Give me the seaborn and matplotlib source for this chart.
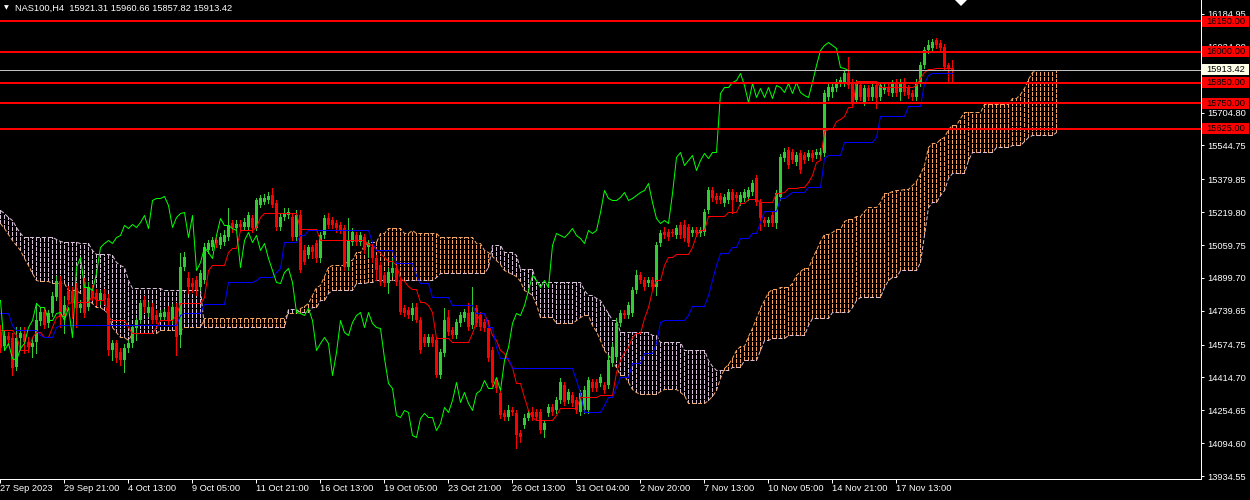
import numpy as np
import matplotlib
matplotlib.use("Agg")
import matplotlib.pyplot as plt
import seaborn as sns
from matplotlib.patches import Rectangle, Polygon
from matplotlib.transforms import blended_transform_factory

# ---------------- data (NAS100, H4) ----------------
open_ = [
 14636, 14568, 14616, 14607, 14465, 14607, 14626, 14587, 14563, 14587,
 14690, 14733, 14680, 14728, 14806, 14884, 14709, 14836, 14836, 14850,
 14753, 14879, 14758, 14841, 14826, 14792, 14821, 14802, 14548, 14582,
 14539, 14500, 14558, 14582, 14655, 14694, 14792, 14728, 14758, 14719,
 14709, 14709, 14733, 14694, 14758, 14621, 14953, 14899, 14875, 14889,
 14855, 14889, 15035, 15050, 15084, 15060, 15074, 15099, 15167, 15142,
 15162, 15147, 15147, 15191, 15142, 15255, 15269, 15279, 15303, 15264,
 15147, 15196, 15206, 15196, 15099, 15206, 15035, 15011, 15050, 15069,
 14996, 15108, 15191, 15181, 15167, 15157, 15142, 14953, 15074, 15108,
 15074, 15099, 15050, 15050, 14996, 14962, 14914, 14875, 14923, 14948,
 14889, 14753, 14743, 14719, 14758, 14694, 14612, 14582, 14612, 14597,
 14426, 14534, 14709, 14646, 14621, 14680, 14704, 14728, 14670, 14753,
 14719, 14685, 14655, 14548, 14392, 14339, 14241, 14222, 14256, 14241,
 14144, 14183, 14217, 14246, 14246, 14246, 14159, 14241, 14271, 14256,
 14305, 14378, 14305, 14329, 14305, 14246, 14256, 14256, 14392, 14392,
 14387, 14378, 14378, 14485, 14514, 14680, 14728, 14719, 14728, 14841,
 14914, 14889, 14875, 14889, 14855, 15069, 15123, 15123, 15123, 15108,
 15157, 15157, 15147, 15118, 15133, 15118, 15123, 15230, 15328, 15298,
 15298, 15264, 15279, 15318, 15303, 15269, 15289, 15293, 15318, 15386,
 15269, 15181, 15167, 15206, 15167, 15293, 15484, 15522, 15513, 15464,
 15508, 15498, 15488, 15508, 15498, 15498, 15508, 15781, 15805, 15824,
 15849, 15849, 15898, 15854, 15766, 15839, 15756, 15824, 15781, 15839,
 15781, 15815, 15829, 15800, 15854, 15805, 15854, 15824, 15800, 15781,
 15849, 15936, 16010, 16019, 16058, 16044, 16024, 15936, 15921.31]
high = [
 14670, 14646, 14636, 14631, 14660, 14660, 14660, 14612, 14607, 14777,
 14758, 14753, 14743, 14831, 14909, 14909, 14811, 14860, 14855, 14875,
 14792, 14899, 14879, 14865, 14845, 14841, 14845, 14821, 14597, 14597,
 14558, 14578, 14597, 14670, 14704, 14792, 14811, 14782, 14777, 14743,
 14743, 14748, 14763, 14772, 14777, 15021, 15026, 14928, 14899, 14909,
 14938, 15069, 15084, 15099, 15099, 15118, 15133, 15240, 15181, 15181,
 15181, 15191, 15220, 15206, 15289, 15303, 15308, 15318, 15337, 15279,
 15216, 15240, 15240, 15216, 15230, 15230, 15060, 15060, 15060, 15084,
 15123, 15206, 15216, 15196, 15181, 15172, 15157, 15191, 15142, 15123,
 15123, 15113, 15084, 15065, 15011, 14977, 14928, 14948, 14996, 14962,
 14904, 14767, 14758, 14777, 14777, 14709, 14626, 14626, 14626, 14612,
 14553, 14753, 14743, 14660, 14699, 14733, 14748, 14777, 14855, 14767,
 14733, 14699, 14694, 14563, 14407, 14353, 14256, 14280, 14271, 14256,
 14159, 14236, 14256, 14271, 14261, 14261, 14207, 14285, 14285, 14319,
 14412, 14392, 14358, 14344, 14319, 14353, 14373, 14417, 14407, 14407,
 14431, 14392, 14524, 14582, 14704, 14743, 14743, 14782, 14855, 14938,
 14928, 14904, 14904, 14904, 15074, 15133, 15147, 15138, 15138, 15157,
 15172, 15181, 15162, 15147, 15147, 15147, 15235, 15342, 15342, 15313,
 15313, 15308, 15332, 15332, 15318, 15318, 15332, 15342, 15376, 15401,
 15284, 15196, 15196, 15220, 15328, 15503, 15532, 15537, 15527, 15513,
 15522, 15513, 15522, 15522, 15527, 15532, 15815, 15844, 15844, 15868,
 15878, 15912, 15976, 15868, 15863, 15854, 15839, 15839, 15844, 15854,
 15854, 15844, 15844, 15863, 15868, 15868, 15873, 15839, 15815, 15868,
 15951, 16024, 16058, 16063, 16068, 16058, 16039, 15946, 15960.66]
low = [
 14539, 14548, 14573, 14426, 14451, 14548, 14534, 14539, 14514, 14534,
 14670, 14655, 14660, 14714, 14792, 14660, 14631, 14777, 14704, 14660,
 14733, 14709, 14743, 14792, 14767, 14772, 14772, 14524, 14500, 14490,
 14475, 14441, 14539, 14563, 14597, 14680, 14733, 14714, 14680, 14680,
 14694, 14694, 14675, 14680, 14524, 14563, 14938, 14826, 14831, 14816,
 14841, 14875, 15021, 15035, 15050, 15045, 15060, 15084, 15123, 15133,
 15133, 15133, 15133, 15123, 15133, 15245, 15259, 15264, 15245, 15133,
 15133, 15181, 15191, 15084, 15084, 14928, 14967, 14996, 14996, 14977,
 14977, 15094, 15142, 15142, 15123, 15118, 14938, 14938, 15060, 15060,
 15060, 15021, 15001, 14977, 14889, 14865, 14860, 14826, 14909, 14865,
 14724, 14714, 14704, 14694, 14685, 14534, 14568, 14568, 14568, 14417,
 14412, 14519, 14621, 14607, 14607, 14665, 14690, 14646, 14655, 14665,
 14646, 14641, 14495, 14373, 14344, 14217, 14207, 14207, 14232, 14071,
 14100, 14168, 14207, 14207, 14207, 14144, 14124, 14227, 14232, 14241,
 14290, 14280, 14290, 14275, 14241, 14232, 14241, 14241, 14349, 14349,
 14373, 14339, 14363, 14470, 14500, 14665, 14704, 14704, 14714, 14826,
 14875, 14841, 14860, 14841, 14816, 15055, 15094, 15084, 15104, 15094,
 15094, 15079, 15055, 15104, 15104, 15104, 15108, 15216, 15274, 15264,
 15264, 15250, 15264, 15216, 15274, 15255, 15274, 15279, 15303, 15255,
 15133, 15152, 15152, 15152, 15142, 15279, 15469, 15435, 15459, 15449,
 15410, 15459, 15474, 15469, 15484, 15484, 15493, 15766, 15781, 15810,
 15834, 15834, 15824, 15742, 15751, 15766, 15742, 15766, 15766, 15727,
 15766, 15800, 15790, 15785, 15785, 15766, 15790, 15776, 15766, 15766,
 15834, 15922, 15995, 16005, 16019, 16005, 15912, 15859, 15857.82]
close = [
 14558, 14616, 14597, 14461, 14607, 14631, 14587, 14563, 14582, 14694,
 14733, 14670, 14728, 14811, 14884, 14709, 14767, 14792, 14782, 14753,
 14772, 14728, 14855, 14802, 14792, 14826, 14792, 14548, 14582, 14509,
 14500, 14558, 14582, 14660, 14694, 14777, 14758, 14758, 14694, 14694,
 14728, 14733, 14694, 14758, 14612, 14953, 15001, 14855, 14855, 14841,
 14923, 15050, 15069, 15084, 15069, 15099, 15108, 15157, 15142, 15162,
 15147, 15172, 15206, 15142, 15279, 15289, 15289, 15298, 15255, 15147,
 15196, 15216, 15220, 15099, 15206, 14938, 14977, 15050, 15026, 14996,
 15108, 15191, 15157, 15157, 15142, 15133, 14953, 15084, 15123, 15074,
 15108, 15035, 15069, 14996, 14938, 14879, 14875, 14928, 14948, 14879,
 14733, 14728, 14719, 14753, 14694, 14548, 14582, 14612, 14582, 14426,
 14539, 14694, 14636, 14621, 14685, 14719, 14733, 14660, 14733, 14680,
 14660, 14655, 14509, 14387, 14363, 14232, 14222, 14256, 14246, 14134,
 14124, 14217, 14241, 14222, 14222, 14159, 14193, 14271, 14246, 14305,
 14392, 14295, 14344, 14290, 14256, 14339, 14353, 14402, 14363, 14363,
 14417, 14353, 14500, 14563, 14680, 14728, 14719, 14767, 14841, 14914,
 14889, 14855, 14889, 14855, 15060, 15118, 15108, 15099, 15118, 15142,
 15108, 15094, 15069, 15133, 15118, 15133, 15220, 15328, 15289, 15279,
 15279, 15293, 15318, 15279, 15289, 15303, 15318, 15328, 15362, 15269,
 15191, 15167, 15181, 15167, 15313, 15488, 15513, 15449, 15474, 15498,
 15425, 15474, 15508, 15484, 15513, 15513, 15800, 15829, 15829, 15854,
 15863, 15898, 15839, 15756, 15849, 15781, 15824, 15781, 15829, 15776,
 15839, 15829, 15805, 15849, 15800, 15854, 15805, 15790, 15781, 15854,
 15936, 16010, 16034, 16049, 16034, 16019, 15927, 15922, 15913.42]
tenkan = [
 14646, 14646, 14646, 14646, 14621, 14548, 14548, 14548, 14612, 14636,
 14636, 14612, 14612, 14660, 14709, 14719, 14719, 14777, 14782, 14782,
 14782, 14782, 14782, 14816, 14792, 14792, 14792, 14704, 14694, 14694,
 14694, 14694, 14660, 14631, 14631, 14631, 14631, 14631, 14631, 14660,
 14694, 14694, 14694, 14694, 14719, 14777, 14777, 14777, 14777, 14777,
 14777, 14806, 14938, 14962, 14962, 14962, 14962, 15026, 15045, 15045,
 15133, 15133, 15133, 15133, 15147, 15196, 15216, 15216, 15216, 15216,
 15216, 15216, 15216, 15216, 15216, 15138, 15138, 15138, 15138, 15138,
 15084, 15084, 15084, 15084, 15084, 15084, 15084, 15084, 15084, 15084,
 15084, 15084, 15065, 15060, 15040, 15021, 15001, 14982, 14982, 14962,
 14899, 14884, 14860, 14845, 14845, 14782, 14782, 14767, 14733, 14607,
 14607, 14607, 14607, 14587, 14587, 14587, 14587, 14587, 14631, 14690,
 14728, 14728, 14680, 14621, 14597, 14548, 14534, 14500, 14465, 14387,
 14387, 14320, 14256, 14222, 14207, 14207, 14207, 14207, 14207, 14232,
 14266, 14266, 14266, 14266, 14266, 14320, 14320, 14320, 14320, 14320,
 14329, 14329, 14329, 14329, 14441, 14500, 14539, 14563, 14612, 14631,
 14631, 14704, 14758, 14841, 14889, 14889, 14962, 15001, 15001, 15016,
 15016, 15016, 15016, 15050, 15108, 15133, 15133, 15201, 15201, 15201,
 15201, 15201, 15220, 15220, 15220, 15264, 15264, 15284, 15284, 15284,
 15269, 15269, 15269, 15269, 15313, 15313, 15318, 15337, 15337, 15337,
 15342, 15342, 15367, 15401, 15464, 15474, 15615, 15625, 15625, 15664,
 15673, 15688, 15732, 15732, 15859, 15859, 15859, 15859, 15859, 15859,
 15829, 15829, 15829, 15829, 15829, 15829, 15829, 15829, 15829, 15839,
 15873, 15902, 15917, 15917, 15922, 15922, 15922, 15922, 15922]
kijun = [
 14728, 14728, 14728, 14670, 14646, 14646, 14646, 14646, 14646, 14646,
 14621, 14612, 14612, 14612, 14660, 14670, 14670, 14670, 14670, 14670,
 14670, 14670, 14670, 14670, 14670, 14670, 14670, 14670, 14670, 14670,
 14670, 14670, 14670, 14670, 14670, 14670, 14670, 14670, 14670, 14670,
 14670, 14670, 14670, 14670, 14670, 14719, 14728, 14728, 14728, 14728,
 14728, 14772, 14772, 14772, 14772, 14772, 14772, 14879, 14879, 14879,
 14879, 14879, 14879, 14879, 14889, 14904, 14904, 14904, 14904, 14928,
 14948, 15074, 15074, 15074, 15074, 15108, 15108, 15133, 15133, 15133,
 15133, 15133, 15133, 15133, 15133, 15133, 15133, 15133, 15133, 15133,
 15133, 15133, 15133, 15074, 15035, 15035, 15035, 15035, 15035, 14972,
 14972, 14972, 14972, 14972, 14914, 14875, 14875, 14875, 14806, 14806,
 14806, 14806, 14806, 14767, 14767, 14767, 14767, 14767, 14767, 14728,
 14728, 14728, 14660, 14660, 14563, 14509, 14509, 14509, 14461, 14461,
 14461, 14461, 14461, 14461, 14461, 14461, 14461, 14461, 14461, 14461,
 14461, 14461, 14461, 14461, 14402, 14339, 14246, 14246, 14246, 14246,
 14246, 14280, 14320, 14320, 14368, 14417, 14417, 14417, 14485, 14485,
 14485, 14534, 14534, 14534, 14582, 14685, 14694, 14694, 14694, 14694,
 14694, 14694, 14719, 14763, 14763, 14763, 14763, 14816, 14889, 14962,
 15021, 15021, 15021, 15050, 15050, 15094, 15094, 15094, 15118, 15118,
 15172, 15225, 15225, 15225, 15225, 15289, 15289, 15303, 15318, 15318,
 15318, 15318, 15342, 15342, 15342, 15342, 15484, 15498, 15498, 15498,
 15498, 15561, 15561, 15561, 15561, 15561, 15561, 15561, 15561, 15586,
 15688, 15688, 15688, 15688, 15688, 15688, 15688, 15737, 15737, 15737,
 15737, 15849, 15888, 15898, 15898, 15898, 15898, 15898, 15898]
span_a = [
 15167, 15142, 15113, 15084, 15060, 15035, 14996, 14962, 14923, 14889,
 14884, 14884, 14884, 14875, 14875, 14875, 14875, 14841, 14841, 14841,
 14826, 14826, 14792, 14777, 14758, 14758, 14743, 14728, 14660, 14636,
 14612, 14612, 14597, 14631, 14631, 14631, 14631, 14631, 14631, 14631,
 14646, 14646, 14646, 14646, 14646, 14646, 14660, 14660, 14660, 14660,
 14660, 14704, 14704, 14704, 14704, 14704, 14704, 14704, 14704, 14704,
 14704, 14704, 14704, 14704, 14704, 14704, 14704, 14704, 14704, 14704,
 14704, 14704, 14728, 14728, 14728, 14753, 14763, 14777, 14816, 14855,
 14865, 14909, 14953, 14962, 14962, 14962, 14962, 14987, 14987, 15026,
 15026, 15060, 15074, 15074, 15074, 15118, 15118, 15142, 15142, 15142,
 15142, 15118, 15118, 15133, 15118, 15118, 15118, 15118, 15118, 15118,
 15099, 15099, 15099, 15099, 15099, 15099, 15099, 15099, 15099, 15069,
 15069, 15035, 15026, 15006, 14987, 14967, 14938, 14928, 14918, 14909,
 14884, 14841, 14831, 14816, 14772, 14709, 14709, 14709, 14709, 14680,
 14680, 14680, 14680, 14680, 14694, 14709, 14719, 14719, 14670, 14641,
 14597, 14548, 14524, 14500, 14465, 14426, 14426, 14392, 14358, 14344,
 14334, 14334, 14334, 14334, 14334, 14349, 14358, 14358, 14358, 14358,
 14344, 14329, 14290, 14290, 14290, 14290, 14290, 14305, 14324, 14353,
 14412, 14461, 14480, 14509, 14548, 14568, 14568, 14616, 14655, 14704,
 14753, 14792, 14831, 14845, 14845, 14855, 14855, 14855, 14875, 14914,
 14933, 14948, 14948, 14996, 15035, 15079, 15113, 15113, 15123, 15138,
 15138, 15177, 15186, 15186, 15201, 15201, 15225, 15245, 15245, 15245,
 15269, 15313, 15313, 15323, 15328, 15328, 15332, 15332, 15352, 15371,
 15406, 15449, 15537, 15557, 15557, 15576, 15586, 15625, 15644, 15644,
 15678, 15708, 15708, 15708, 15708, 15708, 15747, 15747, 15747, 15747,
 15747, 15747, 15747, 15776, 15776, 15795, 15824, 15868, 15902, 15912,
 15912, 15912, 15912, 15912, 15912]
span_b = [
 15230, 15216, 15196, 15181, 15147, 15118, 15099, 15099, 15099, 15099,
 15099, 15099, 15099, 15099, 15089, 15079, 15074, 15074, 15074, 15074,
 15069, 15069, 15069, 15035, 15016, 15016, 15016, 15016, 15011, 14977,
 14962, 14953, 14889, 14850, 14850, 14850, 14850, 14850, 14850, 14850,
 14850, 14841, 14841, 14841, 14841, 14841, 14841, 14841, 14841, 14841,
 14841, 14660, 14660, 14660, 14660, 14660, 14660, 14660, 14660, 14660,
 14660, 14660, 14660, 14660, 14660, 14660, 14660, 14660, 14660, 14660,
 14660, 14660, 14748, 14748, 14748, 14733, 14733, 14733, 14758, 14758,
 14792, 14792, 14826, 14841, 14841, 14841, 14841, 14841, 14841, 14875,
 14875, 14875, 14879, 14879, 14889, 14889, 14889, 14889, 14889, 14889,
 14889, 14889, 14889, 14889, 14889, 14889, 14889, 14889, 14889, 14904,
 14923, 14923, 14923, 14923, 14923, 14923, 14923, 14923, 14923, 14923,
 14923, 14923, 14953, 15060, 15060, 15060, 15026, 15026, 15026, 15011,
 14943, 14943, 14943, 14943, 14879, 14879, 14879, 14879, 14879, 14879,
 14879, 14879, 14879, 14879, 14879, 14879, 14841, 14816, 14816, 14802,
 14792, 14758, 14728, 14694, 14694, 14636, 14636, 14636, 14636, 14636,
 14636, 14636, 14636, 14621, 14621, 14587, 14587, 14587, 14587, 14587,
 14587, 14548, 14548, 14548, 14548, 14548, 14548, 14500, 14470, 14451,
 14451, 14451, 14451, 14465, 14465, 14465, 14500, 14500, 14500, 14500,
 14548, 14597, 14597, 14607, 14607, 14607, 14607, 14621, 14621, 14621,
 14621, 14621, 14670, 14704, 14704, 14704, 14704, 14704, 14733, 14733,
 14733, 14733, 14733, 14758, 14792, 14806, 14806, 14806, 14806, 14806,
 14806, 14855, 14889, 14904, 14904, 14938, 14938, 14938, 14938, 14938,
 14977, 15108, 15245, 15269, 15269, 15303, 15328, 15386, 15410, 15410,
 15410, 15410, 15474, 15513, 15513, 15513, 15513, 15513, 15513, 15537,
 15537, 15537, 15537, 15547, 15547, 15547, 15566, 15586, 15596, 15596,
 15596, 15596, 15596, 15596, 15610]
levels = [16150.00, 16000.00, 15850.00, 15750.00, 15625.00]
bid = 15913.42
price_ticks = [16184.95, 16024.90, 15864.85, 15704.80, 15544.75, 15379.85,
               15219.80, 15059.75, 14899.70, 14739.65, 14574.75, 14414.70,
               14254.65, 14094.60, 13934.55]
time_labels = ["27 Sep 2023", "29 Sep 21:00", "4 Oct 13:00", "9 Oct 05:00",
               "11 Oct 21:00", "16 Oct 13:00", "19 Oct 05:00", "23 Oct 21:00",
               "26 Oct 13:00", "31 Oct 04:00", "2 Nov 20:00", "7 Nov 13:00",
               "10 Nov 05:00", "14 Nov 21:00", "17 Nov 13:00"]
title = "NAS100,H4  15921.31 15960.66 15857.82 15913.42"
chikou_shift = 26
bars_per_label = 16

# ---------------- style ----------------
plt.rcParams['font.family'] = ['Liberation Sans', 'DejaVu Sans']
FS = 6.7
PX = 0.72          # one pixel expressed in points (dpi 100)
DASH = (0, (4, 2))

o = np.array(open_, float)
h = np.array(high, float)
l = np.array(low, float)
c = np.array(close, float)
n = len(c)
idx = np.arange(n)

fig = plt.figure(figsize=(12.5, 5), dpi=100, facecolor='black')
ax = fig.add_axes([0, 21 / 500, 1201 / 1250, 479 / 500])
ax.set_facecolor('black')

# ---------------- Ichimoku cloud ----------------
a = np.array(span_a, float)
b = np.array(span_b, float)
ci = np.arange(len(a))
bull = a >= b
ax.vlines(ci[bull], b[bull], a[bull], colors='#F4A460', linewidth=PX,
          linestyles=DASH, antialiased=False, zorder=1)
ax.vlines(ci[~bull], a[~bull], b[~bull], colors='#D8BFD8', linewidth=PX,
          linestyles=DASH, antialiased=False, zorder=1)
for ys, colr in ((a, '#F4A460'), (b, '#D8BFD8')):
    ln, = ax.plot(ci, ys, color=colr, lw=PX, ls=DASH, antialiased=True, zorder=1.1)
    ln.set_snap(True)

# ---------------- candles ----------------
up = c >= o
col = np.where(up, '#32CD32', '#FF0000')
ax.vlines(idx, l, h, colors=col, linewidth=PX, antialiased=False, zorder=2)
body_lo = np.minimum(o, c)
body_h = np.maximum(np.abs(c - o), 4.0)
ax.bar(idx, body_h, bottom=body_lo, width=0.75, color=col, linewidth=0,
       antialiased=False, zorder=2.1)

# ---------------- Ichimoku lines (seaborn) ----------------
line_specs = [
    (idx, np.array(tenkan, float), '#FF0000'),
    (idx, np.array(kijun, float), '#0000FF'),
    (idx[:n - chikou_shift], c[chikou_shift:], '#00FF00'),
]
for xs, ys, colr in line_specs:
    before = len(ax.lines)
    sns.lineplot(x=xs, y=ys, ax=ax, color=colr, estimator=None, sort=False,
                 legend=False, linewidth=PX)
    for ln in ax.lines[before:]:
        ln.set_linewidth(PX)
        ln.set_antialiased(True)
        ln.set_snap(True)
        ln.set_zorder(3)

# ---------------- horizontal levels ----------------
for lv in levels:
    ax.axhline(lv, color='#FF0000', lw=2 * PX, zorder=5, antialiased=False)
ax.axhline(bid, color='#C0C0C0', lw=PX, zorder=5, antialiased=False)

# ---------------- axes ----------------
ax.set_xlim(0, 1201 / 4)
ax.set_ylim(13920.0, 16253.1)
ax.set_xlabel('')
ax.set_ylabel('')

ax.yaxis.tick_right()
ax.set_yticks(price_ticks)
ax.set_yticklabels([f"{v:.2f}" for v in price_ticks])
ax.tick_params(axis='y', colors='white', labelcolor='white', length=3 * PX,
               width=PX, pad=3 * PX, labelsize=FS, direction='out')

xt = [bars_per_label * k for k in range(len(time_labels))]
ax.set_xticks(xt)
ax.set_xticklabels(time_labels, ha='left')
ax.tick_params(axis='x', colors='white', labelcolor='white', length=4 * PX,
               width=PX, pad=1, labelsize=FS, direction='out')

for s in ['top', 'left']:
    ax.spines[s].set_visible(False)
for s in ['right', 'bottom']:
    ax.spines[s].set_color('white')
    ax.spines[s].set_linewidth(PX)

# price labels on the right axis
trans = blended_transform_factory(ax.transAxes, ax.transData)
half = 5.5 * (16253.1 - 13920.0) / 479
bx0, bw = 1202 / 1201, 47 / 1201
for lv in levels:
    ax.add_patch(Rectangle((bx0, lv - half), bw, 2 * half, transform=trans,
                           facecolor='#FF0000', edgecolor='none', clip_on=False, zorder=6))
    ax.text(1206 / 1201, lv, f"{lv:.2f}", transform=trans, color='black',
            fontsize=FS, va='center', ha='left', clip_on=False, zorder=7)
ax.add_patch(Rectangle((bx0, bid - half), bw, 2 * half, transform=trans,
                       facecolor='#FFFFE8', edgecolor='none', clip_on=False, zorder=6))
ax.text(1206 / 1201, bid, f"{bid:.2f}", transform=trans, color='black',
        fontsize=FS, va='center', ha='left', clip_on=False, zorder=7)

# title and markers
fig.text(15 / 1250, 1 - 8 / 500, title, color='white', fontsize=FS,
         va='center', ha='left')
fig.text(4 / 1250, 1 - 8 / 500, '\u25BC', color='white', fontsize=4.5,
         va='center', ha='left', family=['DejaVu Sans'])
fig.patches.append(Polygon([[955 / 1250, 1.0], [967 / 1250, 1.0], [961 / 1250, 1 - 6 / 500]],
                           closed=True, transform=fig.transFigure,
                           facecolor='white', edgecolor='none'))

fig.savefig("out.png", dpi=100, facecolor='black')
